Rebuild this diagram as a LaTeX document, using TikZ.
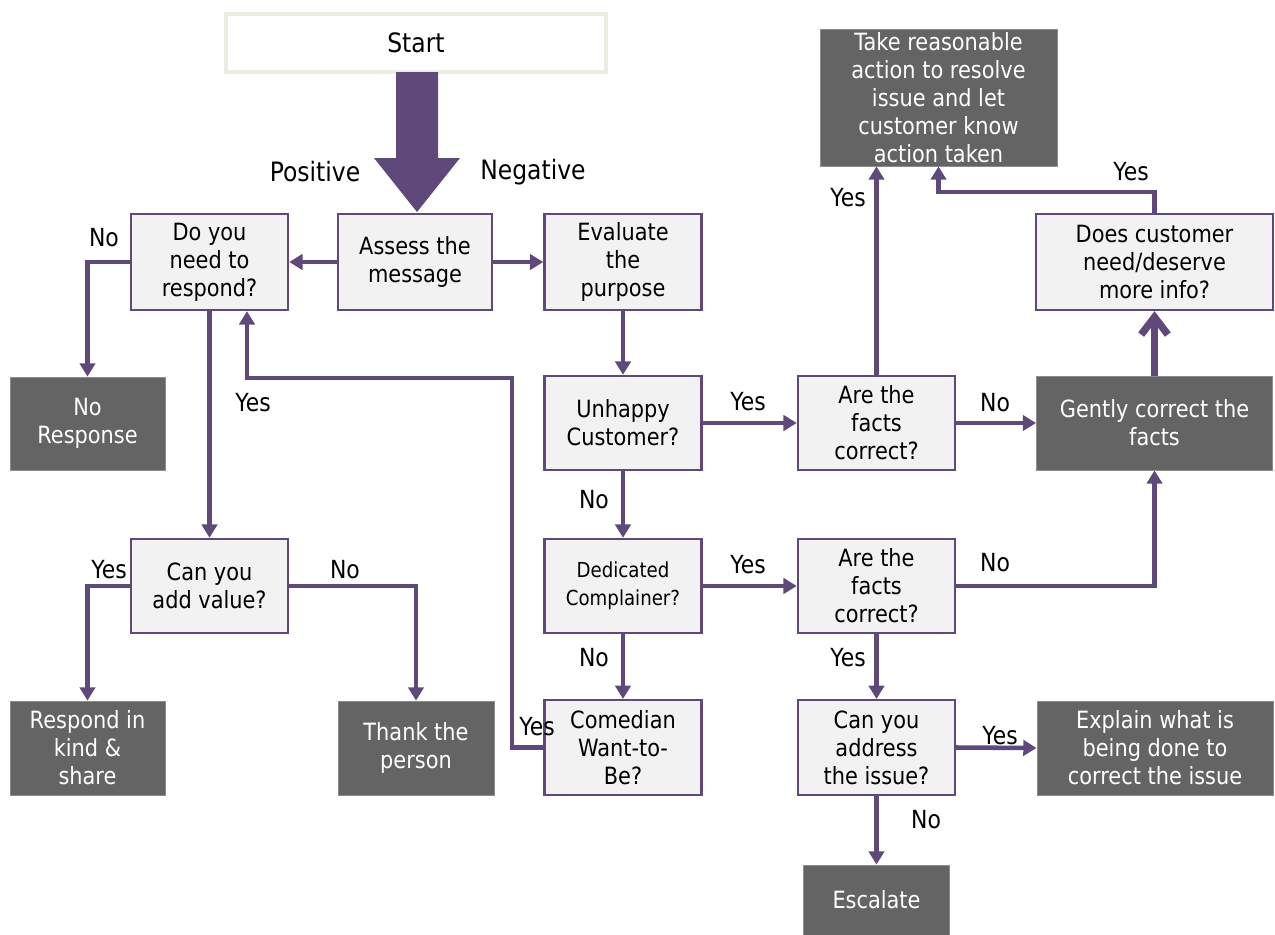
\documentclass[tikz,border=0pt]{standalone}
\usepackage{fontspec}
\setmainfont{DejaVu Sans}[FakeStretch=0.88]
\usetikzlibrary{arrows.meta,calc}
\definecolor{purp}{HTML}{5F497A}
\definecolor{lfill}{HTML}{F2F2F2}
\definecolor{dfill}{HTML}{646464}
\definecolor{dedge}{HTML}{8C8C8C}
\definecolor{tanedge}{HTML}{EEECE1}
\tikzset{
  lbox/.style={draw=purp, line width=1.8pt, fill=lfill, align=center, inner sep=0pt,
    minimum width=117.75pt, minimum height=72pt},
  dbox/.style={draw=dedge, line width=0.6pt, fill=dfill, text=white, align=center, inner sep=0pt},
  conn/.style={draw=purp, line width=3.4pt, -{Triangle[width=11.5pt,length=10pt]}},
  thickconn/.style={draw=purp, line width=5.5pt, -{Straight Barb[width=20pt,length=13pt]}},
  lbl/.style={inner sep=0pt, font=\fontsize{18.7}{22}\selectfont},
  biglbl/.style={inner sep=0pt, font=\fontsize{20}{24}\selectfont}
}
\begin{document}
\begin{tikzpicture}[x=0.75pt, y=-0.75pt, font=\fontsize{17.8}{21}\selectfont]
\useasboundingbox (0,0) rectangle (1275,935);

% start
\node[draw=tanedge, line width=3.5pt, fill=white, minimum width=285pt, minimum height=43.5pt, inner sep=0pt, font=\fontsize{20}{24}\selectfont] (start) at (416,43) {Start};

% light boxes
\node[lbox] (respond) at (209.5,262) {Do you\\need to\\respond?};
\node[lbox, minimum width=115.5pt] (assess) at (415,262) {Assess the\\message};
\node[lbox] (evaluate) at (623,262) {Evaluate\\the\\purpose};
\node[lbox, minimum height=70.5pt] (unhappy) at (623,423) {Unhappy\\Customer?};
\node[lbox, minimum height=70.5pt, font=\fontsize{15.5}{21}\selectfont] (dedicated) at (623,586) {Dedicated\\Complainer?};
\node[lbox, minimum height=71pt] (comedian) at (623,747.5) {Comedian\\Want-to-\\Be?};
\node[lbox, minimum height=70.5pt] (facts1) at (876.5,423) {Are the\\facts\\correct?};
\node[lbox, minimum height=70.5pt] (facts2) at (876.5,586) {Are the\\facts\\correct?};
\node[lbox, minimum height=71pt] (address) at (876.5,747.5) {Can you\\address\\the issue?};
\node[lbox, minimum width=177.75pt] (more) at (1154.5,262) {Does customer\\need/deserve\\more info?};
\node[lbox, minimum height=70.5pt] (addvalue) at (209.5,586) {Can you\\add value?};

% dark boxes
\node[dbox, minimum width=177.75pt, minimum height=102.75pt] (take) at (938.5,97.5) {Take reasonable\\action to resolve\\issue and let\\customer know\\action taken};
\node[dbox, minimum width=177pt, minimum height=70.5pt] (gently) at (1154.5,423) {Gently correct the\\facts};
\node[dbox, minimum width=116.25pt, minimum height=69.75pt] (noresp) at (87.5,423.5) {No\\Response};
\node[dbox, minimum width=116.25pt, minimum height=70.5pt] (kind) at (87.5,748) {Respond in\\kind \&\\share};
\node[dbox, minimum width=117pt, minimum height=70.5pt] (thank) at (416,748) {Thank the\\person};
\node[dbox, minimum width=177pt, minimum height=70.5pt] (explain) at (1155,748) {Explain what is\\being done to\\correct the issue};
\node[dbox, minimum width=109.5pt, minimum height=52.5pt] (escalate) at (876.5,900) {Escalate};

% big arrow
\fill[purp] (396,72) -- (438,72) -- (438,158) -- (460,158) -- (417,212) -- (374,158) -- (396,158) -- cycle;
\node[biglbl] (pos) at (315,172) {Positive};
\node[biglbl] (neg) at (533,172) {Negative};

% helper coordinates
\coordinate (cl) at (512,378);
\coordinate (cr) at (247,0);

% connectors
\draw[conn] (assess.west) -- (respond.east);
\draw[conn] (assess.east) -- (evaluate.west);
\draw[conn] (evaluate.south) -- (unhappy.north);
\draw[conn] (unhappy.south) -- (dedicated.north);
\draw[conn] (dedicated.south) -- (comedian.north);
\draw[conn] (unhappy.east) -- (facts1.west);
\draw[conn] (dedicated.east) -- (facts2.west);
\draw[conn] (respond.west) -| (noresp.north);
\draw[conn] (respond.south) -- (addvalue.north);
\draw[conn] (comedian.west) -| (cl) -| (respond.south -| cr);
\draw[conn] (addvalue.west) -| (kind.north);
\draw[conn] (addvalue.east) -| (thank.north);
\draw[conn] (facts1.north) -- (facts1.north |- take.south);
\draw[conn] (facts1.east) -- (gently.west);
\draw[conn] (facts2.east) -| (gently.south);
\draw[thickconn] (gently.north) -- (more.south);
\draw[conn] (more.north) -- ++(0,-21) -| (take.south);
\draw[conn] (facts2.south) -- (address.north);
\draw[conn] (address.east) -- (explain.west);
\draw[conn] (address.south) -- (escalate.north);

% labels
\node[lbl] at (104,238) {No};
\node[lbl] at (253,403) {Yes};
\node[lbl] at (109,570) {Yes};
\node[lbl] at (345,570) {No};
\node[lbl] at (537,727) {Yes};
\node[lbl] at (748,402) {Yes};
\node[lbl] at (748,565) {Yes};
\node[lbl] at (594,500) {No};
\node[lbl] at (594,658) {No};
\node[lbl] at (848,198) {Yes};
\node[lbl] at (995,403) {No};
\node[lbl] at (995,563) {No};
\node[lbl] at (1131,172) {Yes};
\node[lbl] at (848,658) {Yes};
\node[lbl] at (1000,736) {Yes};
\node[lbl] at (926,820) {No};
\end{tikzpicture}
\end{document}
